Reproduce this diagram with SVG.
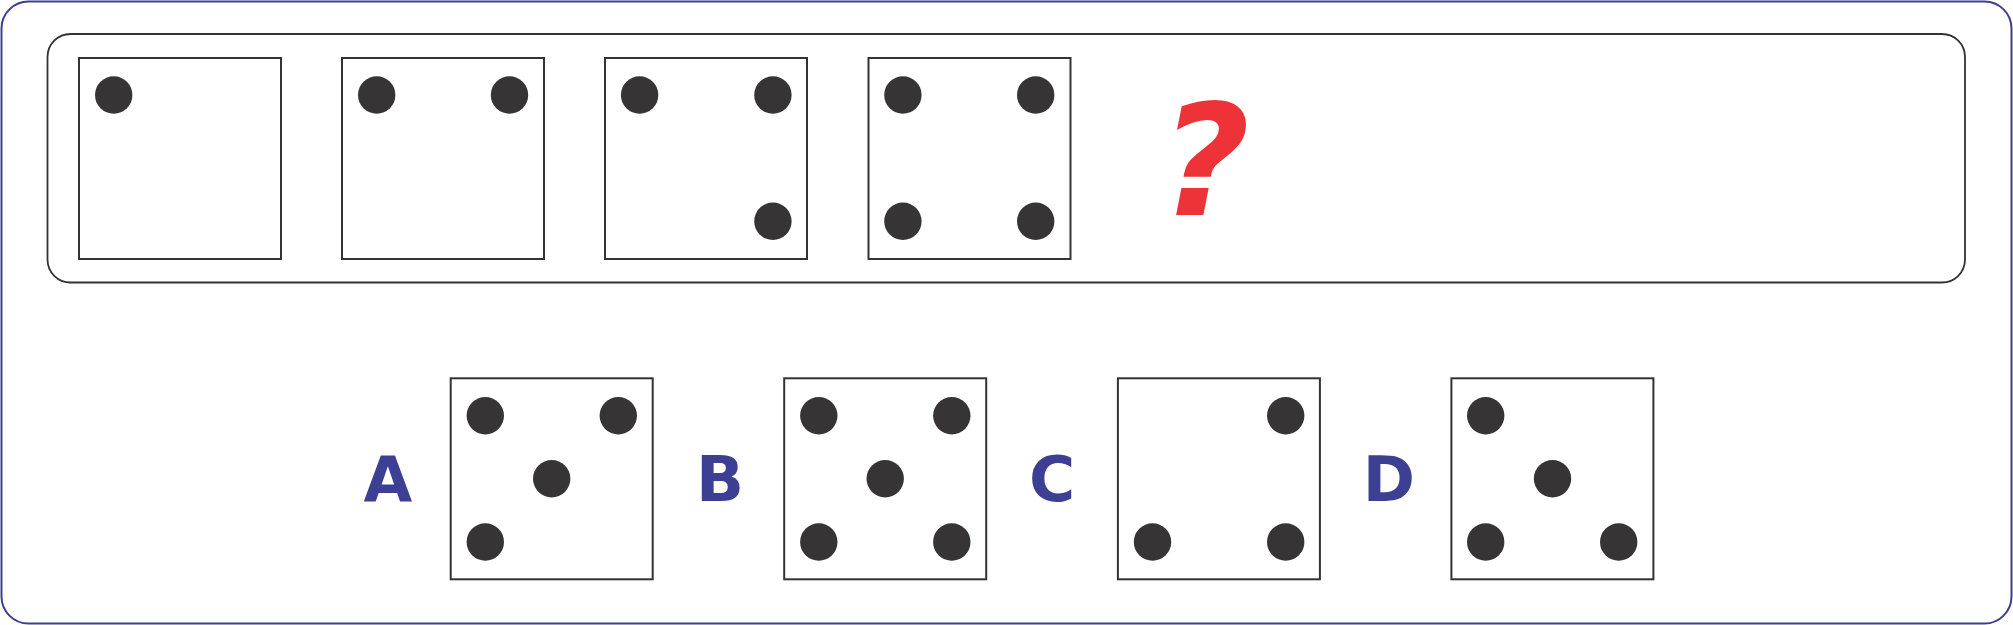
<svg xmlns="http://www.w3.org/2000/svg" width="2013" height="625" viewBox="0 0 2013 625">
<style>
.box{fill:#fff;stroke:#333;stroke-width:2}
.dot{fill:#373435}
.lbl{font-family:"DejaVu Sans","Liberation Sans",sans-serif;font-weight:bold;font-size:63px;fill:#3d3f93;text-anchor:middle}
.q{font-family:"DejaVu Sans","Liberation Sans",sans-serif;font-weight:bold;font-style:italic;font-size:155px;fill:#ee3338;text-anchor:middle}
</style>
<rect x="1.5" y="1.5" width="2010" height="622" rx="27" fill="#fff" stroke="#3c3f94" stroke-width="2"/>
<rect id="panel" x="47.5" y="34" width="1917.5" height="248.5" rx="23" fill="none" stroke="#333" stroke-width="1.8"/>
<g id="s1"><rect class="box" x="79" y="58" width="202" height="201"/><circle class="dot" cx="113.7" cy="95" r="18.7"/></g>
<g id="s2"><rect class="box" x="342" y="58" width="202" height="201"/><circle class="dot" cx="376.7" cy="95" r="18.7"/><circle class="dot" cx="509.5" cy="95" r="18.7"/></g>
<g id="s3"><rect class="box" x="605" y="58" width="202" height="201"/><circle class="dot" cx="639.6" cy="95" r="18.7"/><circle class="dot" cx="772.9" cy="95" r="18.7"/><circle class="dot" cx="772.9" cy="221.3" r="18.7"/></g>
<g id="s4"><rect class="box" x="868.5" y="58" width="202" height="201"/><circle class="dot" cx="902.9" cy="95" r="18.7"/><circle class="dot" cx="1035.7" cy="95" r="18.7"/><circle class="dot" cx="902.9" cy="221.3" r="18.7"/><circle class="dot" cx="1035.7" cy="221.3" r="18.7"/></g>
<g id="question"><text class="q" x="1205" y="215">?</text></g>
<g id="optA"><text class="lbl" x="388" y="500.7">A</text><rect class="box" x="450.7" y="378.3" width="202" height="201"/><circle class="dot" cx="485.3" cy="415.7" r="18.7"/><circle class="dot" cx="618.3" cy="415.7" r="18.7"/><circle class="dot" cx="551.7" cy="478.7" r="18.7"/><circle class="dot" cx="485.3" cy="542" r="18.7"/></g>
<g id="optB"><text class="lbl" x="720" y="500.7">B</text><rect class="box" x="784.2" y="378.3" width="202" height="201"/><circle class="dot" cx="818.8" cy="415.7" r="18.7"/><circle class="dot" cx="951.8" cy="415.7" r="18.7"/><circle class="dot" cx="885.2" cy="478.7" r="18.7"/><circle class="dot" cx="818.8" cy="542" r="18.7"/><circle class="dot" cx="951.8" cy="542" r="18.7"/></g>
<g id="optC"><text class="lbl" x="1052" y="500.7">C</text><rect class="box" x="1117.9" y="378.3" width="202" height="201"/><circle class="dot" cx="1285.7" cy="415.7" r="18.7"/><circle class="dot" cx="1152.5" cy="542" r="18.7"/><circle class="dot" cx="1285.7" cy="542" r="18.7"/></g>
<g id="optD"><text class="lbl" x="1389" y="500.7">D</text><rect class="box" x="1451.4" y="378.3" width="202" height="201"/><circle class="dot" cx="1485.7" cy="415.7" r="18.7"/><circle class="dot" cx="1552.5" cy="478.7" r="18.7"/><circle class="dot" cx="1485.7" cy="542" r="18.7"/><circle class="dot" cx="1618.7" cy="542" r="18.7"/></g>
<g id="connectors"></g>
</svg>
